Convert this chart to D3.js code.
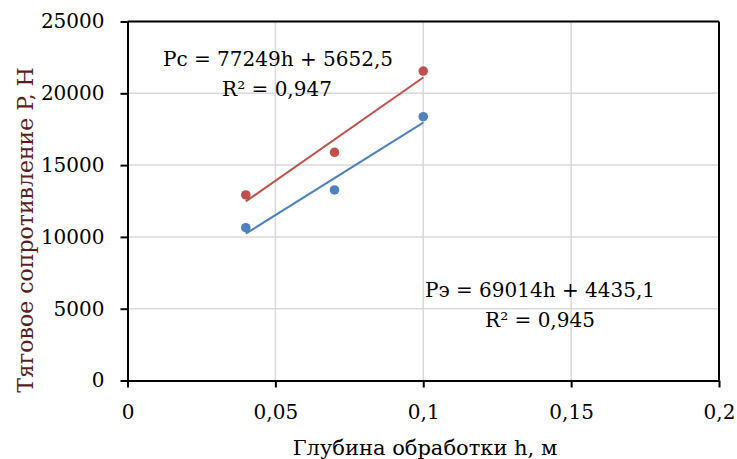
<!DOCTYPE html>
<html>
<head>
<meta charset="utf-8">
<script src="https://cdn.jsdelivr.net/npm/d3@7"></script>
<style>
  body { margin: 0; background: #fff; }
</style>
</head>
<body>
<svg id="chart"></svg>
<script>
// глубина обработки h, м
var depth = [0.04, 0.07, 0.1]
// тяговое сопротивление, Н
var resistC = [12920, 15890, 21550]
var resistE = [10640, 13270, 18370]
var xTicks = [0, 0.05, 0.1, 0.15, 0.2]
var yTicks = [0, 5000, 10000, 15000, 20000, 25000]

var serif = "'DejaVu Serif', serif"

var dimensions = ({
    width: 737,
    height: 459,
    margin: { top: 21.5, bottom: 78.5, right: 18, left: 127.5 }
})
var w = dimensions.width - dimensions.margin.left - dimensions.margin.right
var h = dimensions.height - dimensions.margin.top - dimensions.margin.bottom

var svg = d3.select("#chart")
    .attr("width", dimensions.width)
    .attr("height", dimensions.height)

var xScale = d3.scaleLinear().domain([0, 0.2]).range([0, w])
var yScale = d3.scaleLinear().domain([0, 25000]).range([h, 0])

var g = svg.append("g")
    .attr("transform", "translate(" + dimensions.margin.left + "," + dimensions.margin.top + ")")

// сетка
g.append("g").selectAll("line").data(yTicks.slice(1)).enter().append("line")
    .attr("x1", 0).attr("x2", w)
    .attr("y1", d => yScale(d)).attr("y2", d => yScale(d))
    .attr("stroke", "#d9d9d9").attr("stroke-width", 1.5)
g.append("g").selectAll("line").data(xTicks.slice(1)).enter().append("line")
    .attr("y1", 0).attr("y2", h)
    .attr("x1", d => xScale(d)).attr("x2", d => xScale(d))
    .attr("stroke", "#d9d9d9").attr("stroke-width", 1.5)

// рамка
g.append("line").attr("x1", 0).attr("x2", w).attr("y1", 0).attr("y2", 0)
    .attr("stroke", "#000").attr("stroke-width", 2)
g.append("line").attr("x1", w).attr("x2", w).attr("y1", 0).attr("y2", h)
    .attr("stroke", "#000").attr("stroke-width", 2)

var fmt = d => String(d).replace(".", ",")

var xAxis = d3.axisBottom(xScale).tickValues(xTicks).tickFormat(fmt).tickSizeInner(7).tickSizeOuter(0).tickPadding(17)
var gx = g.append("g").attr("transform", "translate(0," + h + ")").call(xAxis)
var yAxis = d3.axisLeft(yScale).tickValues(yTicks).tickFormat(d => d).tickSizeInner(7).tickSizeOuter(0).tickPadding(16)
var gy = g.append("g").call(yAxis)

;[gx, gy].forEach(function(a){
    a.attr("font-family", serif).attr("font-size", 20)
    a.select(".domain").attr("stroke", "#000").attr("stroke-width", 2)
    a.selectAll(".tick line").attr("stroke", "#000").attr("stroke-width", 2)
    a.selectAll("text").attr("fill", "#000")
})

// линии тренда (МНК)
function fit(xs, ys) {
    var mx = d3.mean(xs), my = d3.mean(ys)
    var sxy = d3.sum(xs, (x, i) => (x - mx) * (ys[i] - my))
    var sxx = d3.sum(xs, x => (x - mx) * (x - mx))
    var k = sxy / sxx
    return { k: k, b: my - k * mx }
}

var series = [
    { vals: resistC, color: "#c0504d" },
    { vals: resistE, color: "#4f81bd" }
]

series.forEach(function(s){
    var f = fit(depth, s.vals)
    var ext = d3.extent(depth)
    g.append("line")
        .attr("x1", xScale(ext[0])).attr("y1", yScale(f.k * ext[0] + f.b))
        .attr("x2", xScale(ext[1])).attr("y2", yScale(f.k * ext[1] + f.b))
        .attr("stroke", s.color).attr("stroke-width", 2)
    g.selectAll(null).data(depth).enter().append("circle")
        .attr("cx", d => xScale(d))
        .attr("cy", (d, i) => yScale(s.vals[i]))
        .attr("r", 4.8)
        .attr("fill", s.color)
})

// уравнения
var labels = [
    { t: "Pc = 77249h + 5652,5", x: 278, y: 66 },
    { t: "R² = 0,947", x: 277, y: 96 },
    { t: "Pэ = 69014h + 4435,1", x: 540, y: 297 },
    { t: "R² = 0,945", x: 540, y: 327 }
]
svg.selectAll(".eq").data(labels).enter().append("text")
    .attr("class", "eq")
    .attr("x", d => d.x).attr("y", d => d.y)
    .attr("text-anchor", "middle")
    .attr("font-family", serif)
    .attr("font-size", 20)
    .text(d => d.t)

// подписи осей
svg.append("text")
    .attr("x", 425).attr("y", 455)
    .attr("text-anchor", "middle")
    .attr("font-family", serif)
    .attr("font-size", 21)
    .text("Глубина обработки h, м")

svg.append("text")
    .attr("transform", "translate(33,230) rotate(-90)")
    .attr("text-anchor", "middle")
    .attr("font-family", serif)
    .attr("font-size", 22)
    .attr("fill", "#5a1e1e")
    .text("Тяговое сопротивление P, Н")
</script>
</body>
</html>
